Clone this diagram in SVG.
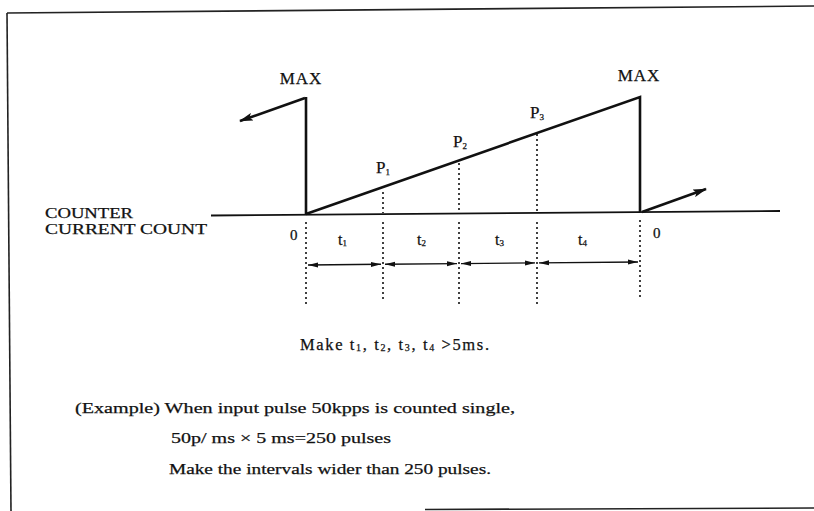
<svg xmlns="http://www.w3.org/2000/svg" width="814" height="511" viewBox="0 0 814 511">
<style>
.t{font-family:"Liberation Serif","Times New Roman",serif;fill:#111;stroke:#111;stroke-width:0.25}
.thick{stroke:#111;stroke-width:2.6;fill:none}
.base{stroke:#111;stroke-width:1.8;fill:none}
.dot{stroke:#111;stroke-width:1.6;stroke-dasharray:2 3;fill:none}
.dim{stroke:#111;stroke-width:1.4;fill:none}
.frame{stroke:#222;stroke-width:1.6;fill:none}
</style>
<defs>
<marker id="big" markerUnits="userSpaceOnUse" viewBox="0 0 14 8" refX="13" refY="4" markerWidth="14" markerHeight="8" orient="auto">
<path d="M0,0 L14,4 L0,8 L3,4 Z" fill="#111"/>
</marker>
<marker id="sm" markerUnits="userSpaceOnUse" viewBox="0 0 10 6" refX="10" refY="3" markerWidth="10" markerHeight="6" orient="auto-start-reverse">
<path d="M0,0.5 L10,3 L0,5.5 Z" fill="#111"/>
</marker>
</defs>
<g id="frame">
<path class="frame" d="M7,13 L814,6"/>
<path class="frame" d="M7,13 L11,511"/>
<path class="frame" d="M425,509.5 L814,508"/>
</g>
<g id="waveform">
<path class="base" d="M211,215.5 L780,211"/>
<path class="thick" d="M306,214 L306,97"/>
<path class="thick" d="M306,214 L640,97 L640,212"/>
<path class="thick" d="M305,98 L240,121" marker-end="url(#big)"/>
<path class="thick" d="M642,212 L706,189" marker-end="url(#big)"/>
</g>
<g id="guides">
<path class="dot" d="M383,192 L383,213"/>
<path class="dot" d="M459,163 L459,213"/>
<path class="dot" d="M537,134 L537,212"/>
<path class="dot" d="M306,222 L306,306"/>
<path class="dot" d="M383,222 L383,302"/>
<path class="dot" d="M459,222 L459,306"/>
<path class="dot" d="M537,222 L537,305"/>
<path class="dot" d="M640,220 L640,300"/>
</g>
<g id="connectors">
<path class="dim" d="M308,265 L381,264.3" marker-start="url(#sm)" marker-end="url(#sm)"/>
<path class="dim" d="M385,264.3 L457,263.6" marker-start="url(#sm)" marker-end="url(#sm)"/>
<path class="dim" d="M461,263.6 L535,262.9" marker-start="url(#sm)" marker-end="url(#sm)"/>
<path class="dim" d="M539,262.9 L638,262" marker-start="url(#sm)" marker-end="url(#sm)"/>
</g>
<g id="labels">
<text class="t" x="301" y="84" font-size="17" text-anchor="middle" letter-spacing="1">MAX</text>
<text class="t" x="639" y="81" font-size="17" text-anchor="middle" letter-spacing="1">MAX</text>
<text class="t" x="376" y="173" font-size="17">P<tspan font-size="9" dy="2">1</tspan></text>
<text class="t" x="453" y="147" font-size="17">P<tspan font-size="9" dy="2">2</tspan></text>
<text class="t" x="530" y="118" font-size="17">P<tspan font-size="9" dy="2">3</tspan></text>
<text class="t" x="45" y="218" font-size="14.5" textLength="88" lengthAdjust="spacingAndGlyphs">COUNTER</text>
<text class="t" x="45" y="234" font-size="14.5" textLength="162" lengthAdjust="spacingAndGlyphs">CURRENT COUNT</text>
<text class="t" x="290" y="240" font-size="15">0</text>
<text class="t" x="653" y="238" font-size="15">0</text>
<text class="t" x="338" y="245" font-size="16">t<tspan font-size="9" dy="1">1</tspan></text>
<text class="t" x="417" y="245" font-size="16">t<tspan font-size="9" dy="1">2</tspan></text>
<text class="t" x="495" y="245" font-size="16">t<tspan font-size="9" dy="1">3</tspan></text>
<text class="t" x="578" y="245" font-size="16">t<tspan font-size="9" dy="1">4</tspan></text>
</g>
<g id="notes">
<text class="t" x="300" y="350" font-size="16.5" textLength="189" lengthAdjust="spacing">Make t<tspan font-size="10" dy="1">1</tspan><tspan dy="-1">, t</tspan><tspan font-size="10" dy="1">2</tspan><tspan dy="-1">, t</tspan><tspan font-size="10" dy="1">3</tspan><tspan dy="-1">, t</tspan><tspan font-size="10" dy="1">4</tspan><tspan dy="-1">  &gt;5ms.</tspan></text>
<text class="t" x="75" y="413" font-size="15.5" textLength="440" lengthAdjust="spacingAndGlyphs">(Example) When input pulse 50kpps is counted single,</text>
<text class="t" x="171" y="443" font-size="15.5" textLength="220" lengthAdjust="spacingAndGlyphs">50p/ ms × 5 ms=250 pulses</text>
<text class="t" x="169" y="474" font-size="15.5" textLength="322" lengthAdjust="spacingAndGlyphs">Make the intervals wider than 250 pulses.</text>
</g>
</svg>
